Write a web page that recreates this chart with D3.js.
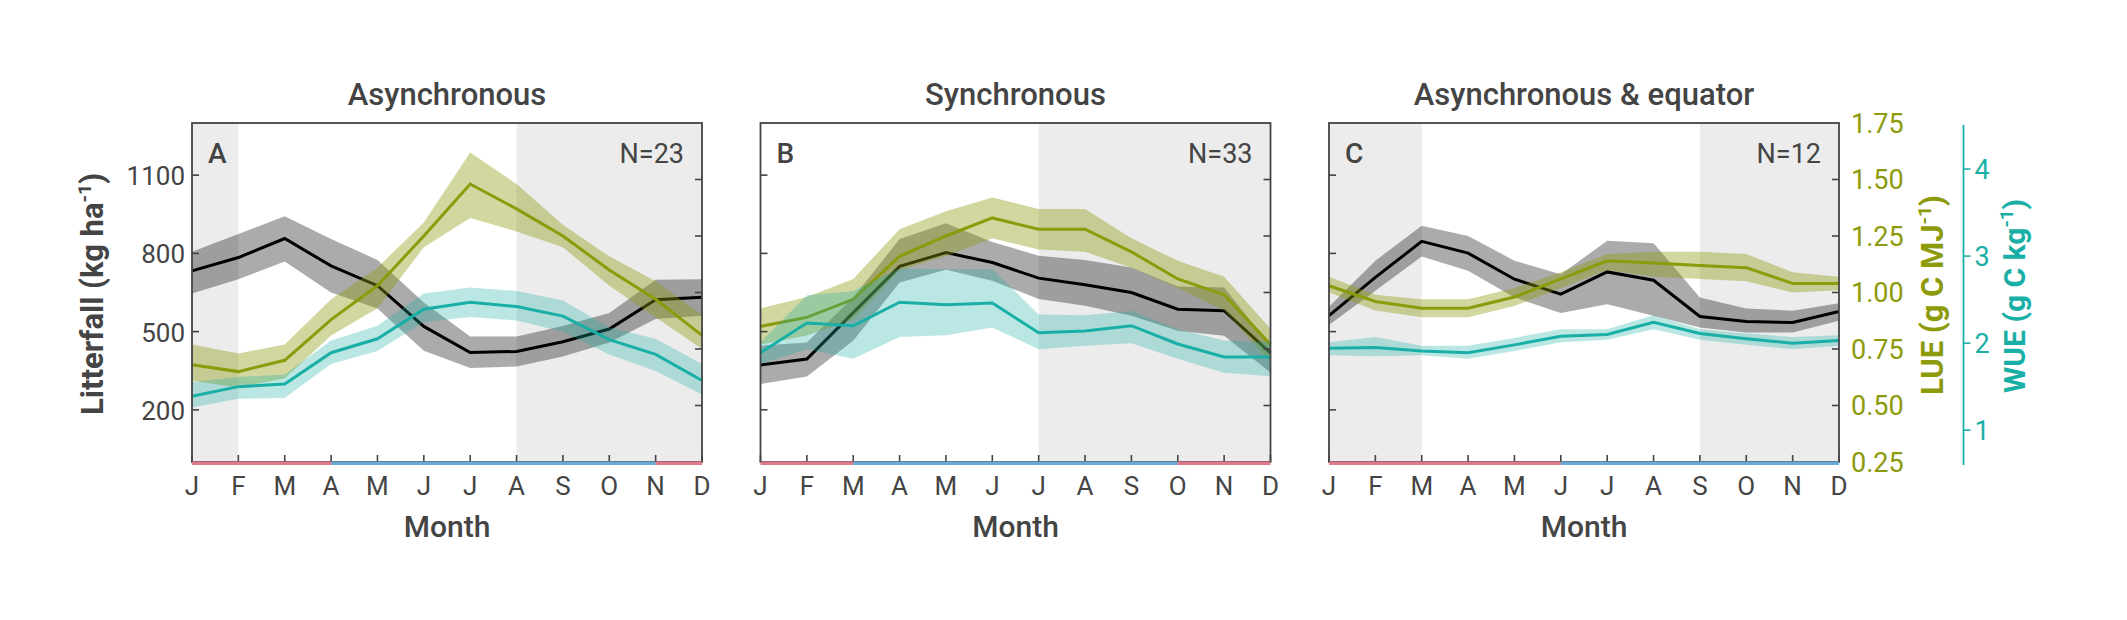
<!DOCTYPE html>
<html><head><meta charset="utf-8">
<script src="https://cdn.jsdelivr.net/npm/d3@7"></script>
<style>html,body{margin:0;padding:0;background:#fff;}svg{display:block;font-family:Roboto,"Noto Sans",sans-serif;}</style>
</head><body>
<svg id="chart" width="2127" height="620"></svg>
<script>
const months = ["J","F","M","A","M","J","J","A","S","O","N","D"];
const litterTicks = [200,500,800,1100];
const lueTicks = [0.25,0.50,0.75,1.00,1.25,1.50,1.75];
const wueTicks = [1,2,3,4];

const panelTitles = ["Asynchronous","Synchronous","Asynchronous & equator"];
const panelLetters = ["A","B","C"];
const panelN = ["N=23","N=33","N=12"];

// Panel A
const litA    = [733,784,857,752,676,520,420,424,461,510,622,632];
const litA_hi = [806,874,942,855,775,612,481,481,522,571,699,701];
const litA_lo = [646,701,769,650,589,427,360,366,405,458,548,561];
const lueA    = [0.68,0.65,0.70,0.88,1.03,1.25,1.48,1.37,1.25,1.10,0.97,0.81];
const lueA_hi = [0.77,0.73,0.77,0.97,1.11,1.31,1.62,1.48,1.30,1.16,1.05,0.90];
const lueA_lo = [0.61,0.58,0.62,0.81,0.93,1.20,1.33,1.27,1.20,1.03,0.89,0.75];
const wueA    = [1.39,1.50,1.53,1.89,2.05,2.39,2.47,2.42,2.31,2.04,1.87,1.57];
const wueA_hi = [1.55,1.61,1.64,2.03,2.20,2.57,2.64,2.60,2.49,2.18,2.05,1.76];
const wueA_lo = [1.26,1.36,1.37,1.76,1.91,2.24,2.30,2.26,2.13,1.87,1.68,1.41];
// Panel B
const litB    = [372,395,573,750,803,765,705,680,650,586,580,418];
const litB_hi = [446,458,631,855,916,844,791,775,746,673,669,446];
const litB_lo = [299,328,465,688,737,695,625,599,561,503,484,343];
const lueB    = [0.85,0.89,0.97,1.16,1.25,1.33,1.28,1.28,1.18,1.06,0.99,0.77];
const lueB_hi = [0.93,0.98,1.06,1.28,1.36,1.42,1.37,1.37,1.24,1.14,1.07,0.84];
const lueB_lo = [0.77,0.81,0.88,1.10,1.16,1.24,1.19,1.18,1.11,1.02,0.92,0.69];
const wueB    = [1.89,2.23,2.20,2.47,2.44,2.46,2.12,2.14,2.20,1.99,1.84,1.84];
const wueB_hi = [2.01,2.55,2.60,2.86,2.85,2.85,2.33,2.32,2.37,2.16,2.03,2.01];
const wueB_lo = [1.76,1.93,1.82,2.07,2.09,2.18,1.93,1.97,2.00,1.82,1.66,1.62];
// Panel C
const litC    = [561,708,846,801,701,644,729,697,558,539,535,577];
const litC_hi = [595,772,906,867,772,720,848,839,631,589,580,609];
const litC_lo = [525,657,788,733,631,571,605,561,516,497,497,542];
const lueC    = [1.03,0.96,0.93,0.93,0.98,1.06,1.14,1.13,1.12,1.11,1.04,1.04];
const lueC_hi = [1.07,0.99,0.97,0.97,1.02,1.09,1.17,1.18,1.18,1.17,1.09,1.07];
const lueC_lo = [1.00,0.92,0.89,0.89,0.94,1.02,1.10,1.07,1.06,1.05,1.00,1.01];
const wueC    = [1.94,1.95,1.91,1.89,1.98,2.08,2.10,2.24,2.11,2.05,2.00,2.03];
const wueC_hi = [2.01,2.07,1.97,1.97,2.06,2.16,2.16,2.32,2.16,2.11,2.07,2.09];
const wueC_lo = [1.86,1.85,1.86,1.82,1.91,2.01,2.04,2.16,2.04,1.98,1.93,1.97];

// shaded month spans (index ranges) and season bar segments
const shadeA = [[0,1],[7,11]];
const shadeB = [[6,11]];
const shadeC = [[0,2],[8,11]];
const seasonA = [["wet",0,3],["dry",3,10],["wet",10,11]];
const seasonB = [["wet",0,2],["dry",2,9],["wet",9,11]];
const seasonC = [["wet",0,5],["dry",5,11]];

const panels = [
  {lit:litA,litHi:litA_hi,litLo:litA_lo,lue:lueA,lueHi:lueA_hi,lueLo:lueA_lo,wue:wueA,wueHi:wueA_hi,wueLo:wueA_lo,shade:shadeA,season:seasonA},
  {lit:litB,litHi:litB_hi,litLo:litB_lo,lue:lueB,lueHi:lueB_hi,lueLo:lueB_lo,wue:wueB,wueHi:wueB_hi,wueLo:wueB_lo,shade:shadeB,season:seasonB},
  {lit:litC,litHi:litC_hi,litLo:litC_lo,lue:lueC,lueHi:lueC_hi,lueLo:lueC_lo,wue:wueC,wueHi:wueC_hi,wueLo:wueC_lo,shade:shadeC,season:seasonC}
];

const C = {text:"#444444", frame:"#444444", shade:"#ececec", olive:"#8c9a0c", teal:"#1aafa6", black:"#000000", wet:"#e07a88", dry:"#6aaad6"};

const svg = d3.select("#chart");
svg.append("rect").attr("width",2127).attr("height",620).attr("fill","#fff");

const pTop = 123, pBottom = 462, pw = 510;
const lefts = [192, 760.5, 1329];
const yL = d3.scaleLinear().domain([0,1300]).range([pBottom, pTop]);
const yLUE = d3.scaleLinear().domain([0.25,1.75]).range([pBottom, pTop]);
const yWUE = d3.scaleLinear().domain([0.6,4.5]).range([465, 125.5]);

panels.forEach((p, pi) => {
  const L = lefts[pi], R = L + pw;
  const x = d3.scaleLinear().domain([0,11]).range([L, R]);
  const g = svg.append("g");
  p.shade.forEach(s => g.append("rect").attr("x", x(s[0])).attr("y", pTop).attr("width", x(s[1]) - x(s[0])).attr("height", pBottom - pTop).attr("fill", C.shade));
  const idx = d3.range(12);
  const drawSeries = (vals, hi, lo, ys, color, bandFill, bandOp) => {
    const area = d3.area().x(i => x(i)).y0(i => ys(lo[i])).y1(i => ys(hi[i]));
    g.append("path").attr("d", area(idx)).attr("fill", bandFill).attr("fill-opacity", bandOp);
    const line = d3.line().x(i => x(i)).y(i => ys(vals[i]));
    g.append("path").attr("d", line(idx)).attr("fill","none").attr("stroke", color).attr("stroke-width", 3).attr("stroke-linejoin","miter");
  };
  drawSeries(p.lit, p.litHi, p.litLo, yL, C.black, "#000", 0.33);
  drawSeries(p.lue, p.lueHi, p.lueLo, yLUE, C.olive, C.olive, 0.4);
  drawSeries(p.wue, p.wueHi, p.wueLo, yWUE, C.teal, C.teal, 0.3);

  g.append("rect").attr("x", L).attr("y", pTop).attr("width", pw).attr("height", pBottom - pTop).attr("fill","none").attr("stroke", C.frame).attr("stroke-width", 1.8);
  litterTicks.forEach(v => g.append("line").attr("x1", L).attr("x2", L + 7).attr("y1", yL(v)).attr("y2", yL(v)).attr("stroke", C.frame).attr("stroke-width", 1.6));
  lueTicks.slice(1,-1).forEach(v => g.append("line").attr("x1", R - 7).attr("x2", R).attr("y1", yLUE(v)).attr("y2", yLUE(v)).attr("stroke", C.frame).attr("stroke-width", 1.6));
  idx.forEach(i => g.append("line").attr("x1", x(i)).attr("x2", x(i)).attr("y1", pBottom - 7).attr("y2", pBottom).attr("stroke", C.frame).attr("stroke-width", 1.6));
  p.season.forEach(s => g.append("line").attr("x1", x(s[1])).attr("x2", x(s[2])).attr("y1", pBottom + 1.3).attr("y2", pBottom + 1.3).attr("stroke", s[0] === "wet" ? C.wet : C.dry).attr("stroke-width", 3.4));

  idx.forEach(i => g.append("text").attr("x", x(i)).attr("y", 495).attr("text-anchor","middle").attr("font-size", 26).attr("fill", C.text).text(months[i]));
  g.append("text").attr("x", (L + R) / 2).attr("y", 537).attr("text-anchor","middle").attr("font-size", 30).attr("font-weight", 500).attr("fill", C.text).text("Month");
  g.append("text").attr("x", (L + R) / 2).attr("y", 105).attr("text-anchor","middle").attr("font-size", 31).attr("font-weight", 500).attr("fill", C.text).text(panelTitles[pi]);
  g.append("text").attr("x", L + 16).attr("y", 163).attr("font-size", 28).attr("font-weight", 500).attr("fill", C.text).text(panelLetters[pi]);
  g.append("text").attr("x", R - 18).attr("y", 163).attr("text-anchor","end").attr("font-size", 27).attr("fill", C.text).text(panelN[pi]);

  if (pi === 0) {
    litterTicks.forEach(v => g.append("text").attr("x", L - 7).attr("y", yL(v) + 10).attr("text-anchor","end").attr("font-size", 26).attr("fill", C.text).text(v));
  }
  if (pi === 2) {
    lueTicks.forEach(v => g.append("text").attr("x", R + 12).attr("y", yLUE(v) + 9.5).attr("font-size", 27).attr("fill", C.olive).text(d3.format(".2f")(v)));
  }
});

function rotTitle(xp, yp, main, after, color, size) {
  const t = svg.append("text").attr("transform", `translate(${xp},${yp}) rotate(-90)`).attr("text-anchor","middle").attr("font-size", size).attr("font-weight", 700).attr("fill", color);
  t.append("tspan").text(main);
  t.append("tspan").attr("font-size", size * 0.62).attr("dy", -size * 0.4).text("-1");
  t.append("tspan").attr("dy", size * 0.4).text(after);
}
rotTitle(103, 294, "Litterfall (kg ha", ")", C.text, 31);
rotTitle(1943, 295, "LUE (g C MJ", ")", C.olive, 31);
rotTitle(2025, 296, "WUE (g C kg", ")", C.teal, 30);

const wx = 1963.5;
svg.append("line").attr("x1", wx).attr("x2", wx).attr("y1", 125).attr("y2", 465).attr("stroke", C.teal).attr("stroke-width", 1.8);
wueTicks.forEach(v => {
  svg.append("line").attr("x1", wx).attr("x2", wx + 7).attr("y1", yWUE(v)).attr("y2", yWUE(v)).attr("stroke", C.teal).attr("stroke-width", 1.6);
  svg.append("text").attr("x", wx + 11).attr("y", yWUE(v) + 9.5).attr("font-size", 27).attr("fill", C.teal).text(v);
});
</script>
</body></html>
